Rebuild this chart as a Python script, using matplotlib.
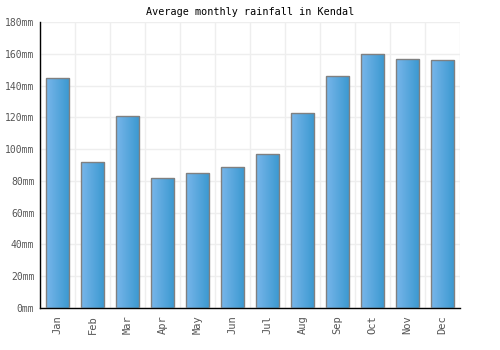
import numpy as np
import matplotlib
matplotlib.use("Agg")
import matplotlib.pyplot as plt
from matplotlib.colors import LinearSegmentedColormap

months = ["Jan", "Feb", "Mar", "Apr", "May", "Jun", "Jul", "Aug", "Sep", "Oct", "Nov", "Dec"]
rainfall = [145, 92, 121, 82, 85, 89, 97, 123, 146, 160, 157, 156]
yticks = [0, 20, 40, 60, 80, 100, 120, 140, 160, 180]
title = "Average monthly rainfall in Kendal"

plt.rcParams['font.family'] = ['DejaVu Sans Mono']

fig = plt.figure(figsize=(5, 3.5), dpi=100)
ax = fig.add_axes([40/500, 1 - 308/350, 420/500, 286/350])

x = np.arange(len(months))
bars = ax.bar(x, rainfall, width=0.67, color="none", edgecolor="#808080", linewidth=1, zorder=3)

cmap = LinearSegmentedColormap.from_list("g", ["#78b6ea", "#3a98d0"])
grad = np.linspace(0, 1, 64).reshape(1, -1)
for b in bars:
    x0, y0 = b.get_x(), b.get_y()
    w, h = b.get_width(), b.get_height()
    im = ax.imshow(grad, cmap=cmap, extent=[x0, x0 + w, y0, y0 + h],
                   aspect="auto", zorder=2, interpolation="bilinear")
    im.set_clip_path(b)

ax.set_xlim(-0.5, len(months) - 0.5)
ax.set_ylim(0, 180)
ax.set_xticks(x)
ax.set_xticklabels(months, rotation=90, fontsize=7.5, color="#555555")
ax.set_yticks(yticks)
ax.set_yticklabels([f"{v}mm" for v in yticks], fontsize=7.0, color="#555555")
ax.set_xticks(np.arange(-0.5, len(months), 1), minor=True)
ax.grid(False)
ax.grid(True, which="minor", axis="x", color="#eeeeee", linewidth=1, zorder=0)
ax.grid(True, which="major", axis="y", color="#eeeeee", linewidth=1, zorder=0)
ax.tick_params(axis="y", which="both", length=0, pad=4)
ax.tick_params(axis="x", which="both", length=0, pad=5)
for s in ["top", "right"]:
    ax.spines[s].set_visible(False)
for s in ["left", "bottom"]:
    ax.spines[s].set_color("black")
    ax.spines[s].set_linewidth(1)
ax.set_axisbelow(True)

fig.text(250/500, 1 - 12/350, title, ha="center", va="center", fontsize=7.3, color="black")

fig.savefig("out.png", dpi=100)
